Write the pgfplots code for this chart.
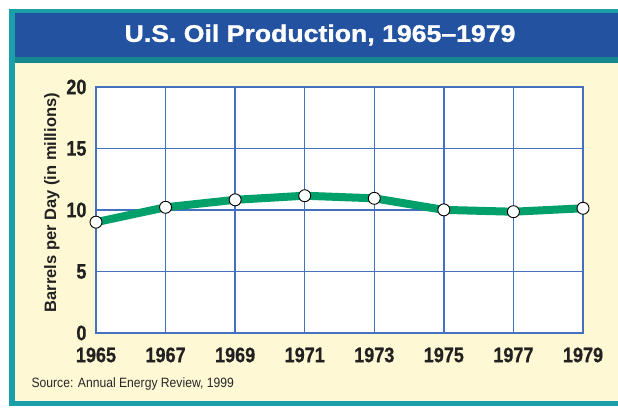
\documentclass[border=0pt]{standalone}
\usepackage{pgfplots}
\pgfplotsset{compat=1.18}
\usepackage{fontspec}
\setmainfont{Liberation Sans}
\newfontfamily\tickfont{Liberation Sans}[FakeStretch=0.86, FakeBold=0.6]
\newfontfamily\titlefont{Liberation Sans}[FakeStretch=1.11, FakeBold=1.2]
\newfontfamily\srcfont{Liberation Sans}[FakeStretch=0.9]
\definecolor{teal1}{HTML}{1B9FA8}
\definecolor{banner}{HTML}{2353A0}
\definecolor{panel}{HTML}{FFF8D4}
\definecolor{gridblue}{HTML}{4470C0}
\definecolor{linegreen}{HTML}{00A06A}
\begin{document}
\begin{tikzpicture}[x=1pt,y=1pt]
\path[fill=white] (0,0) rectangle (618,410);
% outer frame
\fill[teal1] (9,4) rectangle (618,401);
\fill[panel] (15,9) rectangle (618,347);
\fill[banner] (15,353) rectangle (618,397);
\fill[teal1!85!black] (15,347) rectangle (618,353);
\node[text=white,font=\titlefont\bfseries\fontsize{24}{28}\selectfont] at (320,375) {U.S. Oil Production, 1965–1979};
\node[anchor=west,font=\srcfont\fontsize{13.5}{15}\selectfont,text=black!85] at (28,26) {Source: Annual Energy Review, 1999};
\begin{axis}[
  at={(96pt,77pt)}, anchor=south west,
  scale only axis, width=487pt, height=246pt,
  xmin=1965, xmax=1979, ymin=0, ymax=20,
  xtick={1965,1967,...,1979}, ytick={0,5,...,20},
  grid=major,
  grid style={gridblue, line width=1.5pt},
  axis line style={gridblue, line width=1.8pt},
  axis background/.style={fill=white},
  tick style={draw=none},
  /pgf/number format/assume math mode=true,
  /pgf/number format/1000 sep={},
  ticklabel style={font=\tickfont\bfseries\fontsize{21}{23}\selectfont, text=black!87},
  xticklabel style={yshift=-11pt},
  yticklabel style={xshift=-6pt},
  ylabel={Barrels per Day (in millions)},
  ylabel style={font=\bfseries\fontsize{16.5}{18}\selectfont, text=black!87, at={(ticklabel cs:0.53)}},
  clip=false,
]
\addplot[linegreen, line width=8pt, mark=*, mark size=6pt,
  mark options={fill=white, draw=black, line width=0.9pt}]
  coordinates {(1965,9.01) (1967,10.22) (1969,10.83) (1971,11.16) (1973,10.95) (1975,10.01) (1977,9.86) (1979,10.14)};
\end{axis}
\end{tikzpicture}
\end{document}
